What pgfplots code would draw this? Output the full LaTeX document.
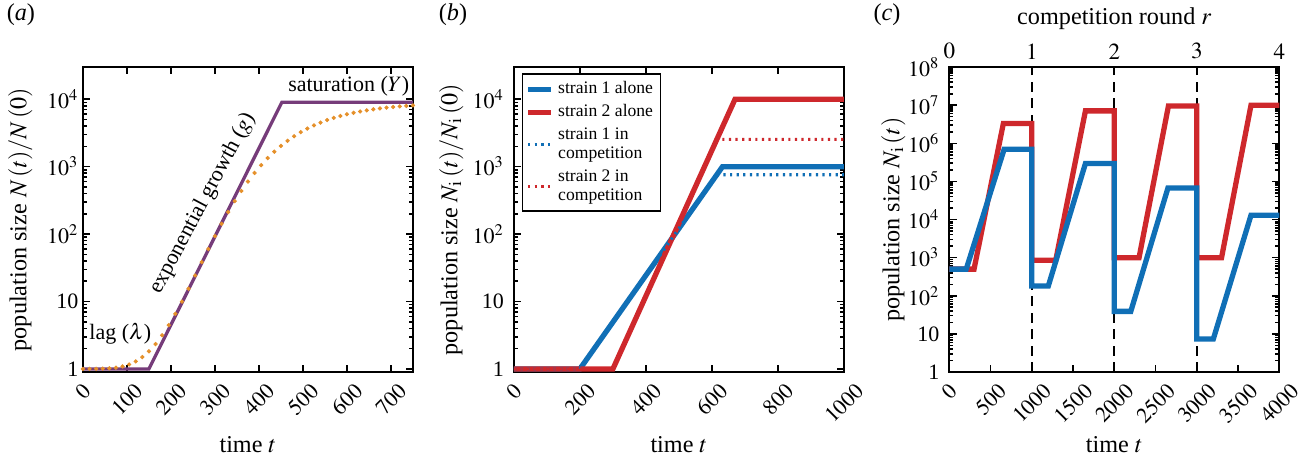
\documentclass[border=0pt]{standalone}
\usepackage{mathptmx}
\usepackage{fontspec}
\setmainfont{Liberation Serif}
\usepackage{graphicx}
\usepackage{pgfplots}
\pgfplotsset{compat=1.18}

\definecolor{cblue}{RGB}{16,111,182}
\definecolor{cred}{RGB}{206,40,44}
\definecolor{cpurple}{RGB}{118,60,122}
\definecolor{corange}{RGB}{229,144,42}

\pgfplotsset{
  panel/.style={
    scale only axis, width=150pt, height=138.6pt,
    anchor=south west,
    axis line style={line width=0.8pt},
    every tick/.style={black, line width=0.7pt},
    major tick length=3.3pt, minor tick length=1.8pt,
    tick label style={font=\fontsize{10}{12}\selectfont},
    label style={font=\fontsize{11}{13}\selectfont},
    xticklabel={\rotatebox{45}{$\pgfmathprintnumber{\tick}$}},
    xticklabel style={anchor=north, inner sep=0pt, yshift=-4.5pt},
    yticklabel style={xshift=-1pt},
    /pgf/number format/1000 sep={},
    xlabel style={at={(axis description cs:0.5,0)}, anchor=center, yshift=-33pt},
    ylabel style={at={(axis description cs:-0.19,0.5)}, anchor=center},
  },
}

\begin{document}
\begin{tikzpicture}
\useasboundingbox (-37.7pt,-38.6pt) rectangle (552.3pt,169.1pt);

\node[font=\fontsize{11}{13}\selectfont] at (-28.2pt,162.3pt) {(\textit{a})};
\node[font=\fontsize{11}{13}\selectfont] at (168.2pt,162.3pt) {(\textit{b})};
\node[font=\fontsize{11}{13}\selectfont] at (365.5pt,162.3pt) {(\textit{c})};

% (a) growth curve
\begin{axis}[panel, ymode=log, at={(0pt,0pt)},
  xmin=0, xmax=750, ymin=0.9, ymax=30000,
  xtick={0,100,...,700},
  ytickten={0,...,4},
  yticklabels={1\hspace{4.5pt},10\hspace{4.5pt},$10^2$,$10^3$,$10^4$},
  yticklabel style={xshift=2.5pt},
  xlabel={time $t$},
  ylabel={population size $N\,(t)/N\,(0)$},
]
\addplot[cpurple, line width=1.5pt] coordinates {(0,1) (150,1) (452,9000) (750,9000)};
\addplot[only marks, mark=*, mark size=0.75pt, corange] coordinates {
 (0,1.0002) (15,1.0009) (30,1.0028) (45,1.0079) (60,1.0196) (75,1.0433)
 (90,1.0876) (105,1.1648) (120,1.2925) (135,1.498) (150,1.824) (165,2.338)
 (180,3.152) (195,4.461) (210,6.561) (225,9.965) (240,15.48) (255,24.34)
 (270,38.38) (285,60.22) (300,93.3) (315,142.1) (330,212.0) (345,307.9)
 (360,436.4) (375,601.4) (390,806.8) (405,1053.7) (420,1343.6) (435,1670.5)
 (450,2029.5) (465,2420) (480,2827) (495,3250) (510,3675) (525,4100)
 (540,4511) (555,4913) (570,5294) (585,5652) (600,5991) (615,6300)
 (630,6588) (645,6851) (660,7092) (675,7309) (690,7504) (705,7677)
 (720,7833) (735,7969) (750,8093)
};
\node[font=\fontsize{10}{12}\selectfont] at (axis cs:604,15500) {saturation ($Y$)};
\node[font=\fontsize{10}{12}\selectfont, rotate=62] at (axis cs:272,285) {exponential growth ($g$)};
\node[font=\fontsize{10}{12}\selectfont] at (axis cs:85,3.36) {lag ($\lambda$)};
\end{axis}

% (b) two strains
\begin{axis}[panel, ymode=log, at={(195.9pt,0pt)},
  xmin=0, xmax=1000, ymin=0.9, ymax=30000,
  xtick={0,200,...,1000},
  ytickten={0,...,4},
  yticklabels={1,10,$10^2$,$10^3$,$10^4$},
  xlabel={time $t$},
  ylabel={population size $N_\mathrm{i}\,(t)/N_\mathrm{i}\,(0)$},
  legend image code/.code={\draw[#1] (0pt,0pt) -- (10.5pt,0pt);},
  legend cell align=left,
  legend style={at={(axis description cs:0.023,0.98)}, anchor=north west,
    font=\fontsize{8}{8.6}\selectfont, draw=black, line width=0.6pt,
    cells={align=left}, inner sep=1.5pt, row sep=-0.5pt},
]
\addplot[cblue, line width=2.4pt] coordinates {(0,1) (200,1) (632,1000) (1000,1000)};
\addlegendentry{strain 1 alone}
\addplot[cred, line width=2.4pt] coordinates {(0,1) (300,1) (670,10000) (1000,10000)};
\addlegendentry{strain 2 alone}
\addplot[cblue, line width=1.4pt, dash pattern=on 1pt off 2pt] coordinates {(0,1) (200,1) (615,760) (1000,760)};
\addlegendentry{strain 1 in\\competition}
\addplot[cred, line width=1.4pt, dash pattern=on 1pt off 2pt] coordinates {(0,1) (300,1) (615,2540) (1000,2540)};
\addlegendentry{strain 2 in\\competition}
\end{axis}

% (c) serial competition rounds
\begin{axis}[panel, ymode=log, at={(393.8pt,0pt)},
  xmin=0, xmax=4000, ymin=1, ymax=1e8,
  xtick={0,500,...,4000}, xtick pos=bottom,
  ytickten={0,...,8},
  yticklabels={1,10,$10^2$,$10^3$,$10^4$,$10^5$,$10^6$,$10^7$,$10^8$},
  xlabel={time $t$},
  ylabel={population size $N_\mathrm{i}\,(t)$},
  ylabel style={at={(axis description cs:-0.17,0.5)}},
]
\addplot[black, line width=0.8pt, dash pattern=on 4.5pt off 3pt] coordinates {(1000,1) (1000,1e8)};
\addplot[black, line width=0.8pt, dash pattern=on 4.5pt off 3pt] coordinates {(2000,1) (2000,1e8)};
\addplot[black, line width=0.8pt, dash pattern=on 4.5pt off 3pt] coordinates {(3000,1) (3000,1e8)};
\addplot[cred, line width=2.4pt] coordinates {
 (0,500) (300,500) (655,3.3e6) (1000,3.3e6) (1000,850) (1290,850)
 (1650,7.1e6) (2000,7.1e6) (2000,1000) (2300,1000) (2656,9.5e6) (3000,9.5e6)
 (3000,1000) (3300,1000) (3657,1.0e7) (4000,1.0e7)};
\addplot[cblue, line width=2.4pt] coordinates {
 (0,500) (205,500) (665,7e5) (1000,7e5) (1000,180) (1200,180)
 (1650,2.95e5) (2000,2.95e5) (2000,39) (2200,39) (2650,6.7e4) (3000,6.7e4)
 (3000,7.3) (3200,7.3) (3657,1.3e4) (4000,1.3e4)};
\end{axis}
\begin{axis}[at={(393.8pt,0pt)}, anchor=south west,
  scale only axis, width=150pt, height=138.6pt,
  xmin=0, xmax=4, ymin=0, ymax=1,
  axis x line*=top, axis y line=none,
  axis line style={line width=0.8pt},
  every tick/.style={black, line width=0.7pt}, major tick length=3.3pt,
  xtick={0,...,4},
  tick label style={font=\fontsize{10.5}{12}\selectfont},
  xlabel={competition round $r$},
  xlabel style={font=\fontsize{11}{13}\selectfont, at={(axis description cs:0.5,1)}, anchor=center, yshift=21.8pt},
]
\end{axis}
\end{tikzpicture}
\end{document}
